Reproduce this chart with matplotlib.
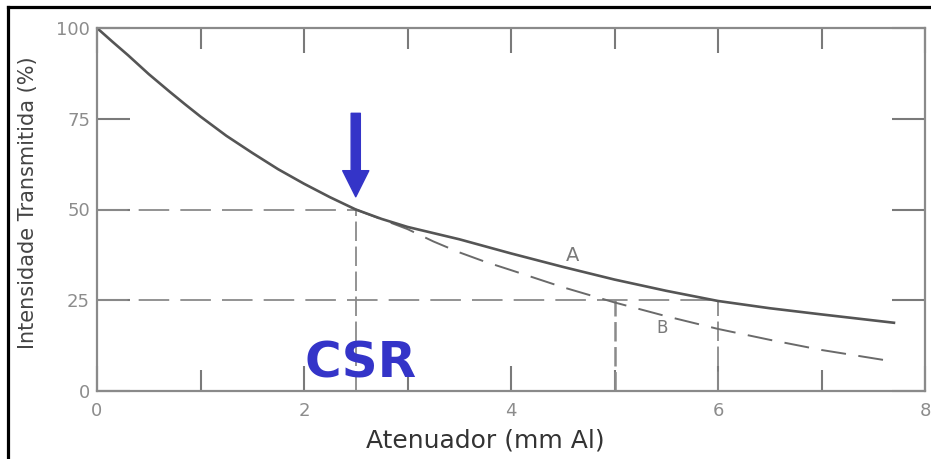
import numpy as np
import matplotlib
matplotlib.use('Agg')
import matplotlib.pyplot as plt
from matplotlib.lines import Line2D

# values
thick_a = [0, 0.15, 0.3, 0.5, 0.7, 0.85, 1.0, 1.25, 1.5, 1.75, 2.0, 2.25, 2.5, 2.75,
           3.0, 3.5, 4.0, 4.5, 5.0, 5.5, 6.0, 6.5, 7.0, 7.7]
trans_a = [100, 96.2, 92.5, 87.3, 82.5, 79.0, 75.6, 70.3, 65.6, 61.1, 57.1, 53.4, 50.0, 47.4,
           45.2, 41.8, 37.9, 34.2, 30.7, 27.6, 24.8, 22.8, 21.1, 18.8]

thick_b = [2.5, 2.75, 3.0, 3.25, 3.5, 3.75, 4.0, 4.5, 5.0, 5.5, 6.0, 6.5, 7.0, 7.7]
trans_b = [50.0, 47.3, 44.6, 41.2, 38.2, 35.6, 33.3, 28.6, 24.4, 20.6, 17.1, 14.1, 11.3, 8.1]

csr_1 = 2.5      # first half value layer
csr_2a = 6.0     # quarter value, curve A
csr_2b = 5.0     # quarter value, curve B

x_major = [0, 2, 4, 6, 8]
x_minor = [1, 3, 5, 7]
y_major = [0, 25, 50, 75, 100]

plt.rcParams['lines.scale_dashes'] = False
plt.rcParams['font.family'] = ['DejaVu Sans']

fig = plt.figure(figsize=(9.31, 4.59), dpi=100, facecolor='white')
ax = fig.add_axes([97/931, 1 - 391/459, 828/931, 363/459])

guide = dict(color='#8a8a8a', lw=1.3)
# dashed guide lines
ax.plot([0, csr_1], [50, 50], dashes=(22, 8), **guide)
ax.plot([csr_1, csr_1], [0, 50], dashes=(14, 4), **guide)
ax.plot([0, csr_2a], [25, 25], dashes=(22, 8), **guide)
ax.plot([csr_2b, csr_2b], [0, 25], dashes=(14, 4), color='#8a8a8a', lw=1.8)
ax.plot([csr_2a, csr_2a], [0, 25], dashes=(14, 4), **guide)

# curves
ax.plot(thick_b, trans_b, color='#6a6a6a', lw=1.4, dashes=(18, 9))
ax.plot(thick_a, trans_a, color='#555555', lw=1.9, solid_joinstyle='round')

ax.text(4.59, 37.4, 'A', color='#7a7a7a', fontsize=14, ha='center', va='center')
ax.text(5.46, 17.3, 'B', color='#7a7a7a', fontsize=12, ha='center', va='center')

# blue arrow and CSR label
ax.annotate('', xy=(csr_1, 53.5), xytext=(csr_1, 76.5),
            arrowprops=dict(arrowstyle='simple,head_width=0.94,head_length=0.94,tail_width=0.33',
                            mutation_scale=20, color='#3434c8', shrinkA=0, shrinkB=0))
ax.text(2.55, 3.6, 'CSR', color='#3434c8', fontsize=36, fontweight='bold',
        ha='center', va='baseline')

ax.set_xlim(0, 8)
ax.set_ylim(0, 100)
ax.set_xticks(x_major)
ax.set_xticks(x_minor, minor=True)
ax.set_yticks(y_major)
ax.tick_params(which='both', direction='in', top=True, right=True,
               color='#7a7a7a', width=1.5, labelcolor='#8c8c8c', labelsize=13)
ax.tick_params(axis='x', which='major', length=18, pad=8)
ax.tick_params(axis='x', which='minor', length=15)
ax.tick_params(axis='y', which='major', length=24, pad=5)

for s in ax.spines.values():
    s.set_color('#8a8a8a')
    s.set_linewidth(1.6)

ax.set_xlabel('Atenuador (mm Al)', fontsize=18, color='#333333')
ax.xaxis.set_label_coords(0.469, -0.135)
ax.xaxis.label.set_va('center')
ax.set_ylabel('Intensidade Transmitida (%)', fontsize=15, color='#444444')
ax.yaxis.set_label_coords(-0.083, 0.52)
ax.yaxis.label.set_va('center')

# scan border
fig.add_artist(Line2D([8/931, 1], [1 - 7/459, 1 - 7/459], color='black', lw=2.3,
                      transform=fig.transFigure))
fig.add_artist(Line2D([8/931, 8/931], [0, 1 - 7/459], color='black', lw=2.3,
                      transform=fig.transFigure))

fig.savefig('out.png', dpi=100, facecolor='white')
